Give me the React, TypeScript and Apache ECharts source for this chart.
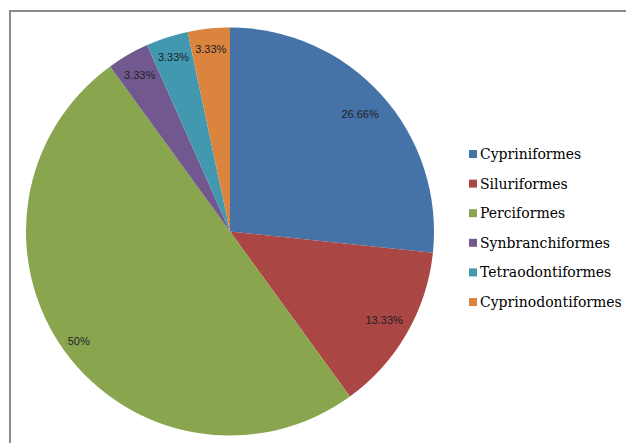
import React, { useEffect, useRef } from "react";
import * as echarts from "echarts";

const categories = [
  "Cypriniformes",
  "Siluriformes",
  "Perciformes",
  "Synbranchiformes",
  "Tetraodontiformes",
  "Cyprinodontiformes",
];
const values = [26.66, 13.33, 50, 3.33, 3.33, 3.33];
const labels = ["26.66%", "13.33%", "50%", "3.33%", "3.33%", "3.33%"];
const colors = ["#4572A7", "#AA4643", "#89A54E", "#71588F", "#4198AF", "#DB843D"];

const CX = 230;
const CY = 231.5;
const R = 204;
const labelDist = [175, 178, 187, 181, 183, 184];

export default function App() {
  const ref = useRef<HTMLDivElement>(null);
  useEffect(() => {
    if (!ref.current) return;
    const chart = echarts.init(ref.current, undefined, { renderer: "svg" });
    chart.setOption({
      animation: false,
      backgroundColor: "#ffffff",
      color: colors,
      graphic: [
        {
          type: "rect",
          shape: { x: 10, y: 11, width: 700, height: 500 },
          style: { fill: "none", stroke: "#8a8a8a", lineWidth: 2 },
          silent: true,
        },
      ],
      legend: {
        orient: "vertical",
        left: 464,
        top: 139,
        icon: "rect",
        itemWidth: 8,
        itemHeight: 8,
        itemGap: 9.6,
        data: categories,
        textStyle: {
          fontFamily: "DejaVu Serif",
          fontSize: 14,
          color: "#000",
          lineHeight: 20,
          padding: [0, 0, 0, -2],
        },
      },
      series: [
        {
          type: "pie",
          center: [CX, CY],
          radius: [0, R],
          startAngle: 90,
          clockwise: true,
          avoidLabelOverlap: false,
          itemStyle: { borderWidth: 0 },
          emphasis: { disabled: true },
          label: {
            show: true,
            position: "inside",
            formatter: (p: any) => labels[p.dataIndex],
            fontFamily: "Liberation Sans",
            fontSize: 11,
            color: "#1e1e28",
          },
          labelLine: { show: false },
          labelLayout: (params: any) => {
            const r = params.labelRect;
            const cx = r.x + r.width / 2;
            const cy = r.y + r.height / 2;
            const vx = cx - CX;
            const vy = cy - CY;
            const d = Math.hypot(vx, vy) || 1;
            const t = labelDist[params.dataIndex];
            return { dx: (vx / d) * (t - d), dy: (vy / d) * (t - d) };
          },
          data: categories.map((name, i) => ({ name, value: values[i] })),
        },
      ],
    });
    return () => chart.dispose();
  }, []);
  return (
    <div
      ref={ref}
      style={{ position: "fixed", left: 0, top: 0, width: 626, height: 443 }}
    />
  );
}
